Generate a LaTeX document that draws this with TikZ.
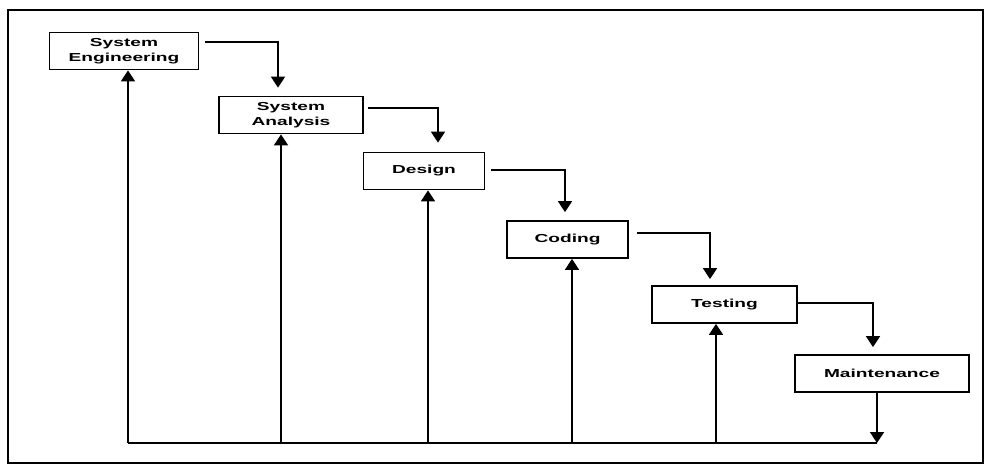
\documentclass[tikz,border=0pt]{standalone}
\usepackage{fontspec}
\setmainfont{Liberation Sans}
\newfontfamily\stagefont[FakeStretch=1.65]{Liberation Sans}
\usetikzlibrary{arrows.meta}

\begin{document}
\begin{tikzpicture}[x=0.2mm, y=-0.2mm,
    stage/.style={draw, line width=1pt, minimum height=7.4mm, inner sep=0pt, align=center,
      font=\stagefont\bfseries\fontsize{6.6}{8.5}\selectfont},
    link/.style={line width=1pt},
    flow/.style={line width=1pt, -{Triangle[width=2.8mm, length=2.2mm]}}]
  \useasboundingbox (0,0) rectangle (987,468);
  \draw[line width=1pt] (8,10) rectangle (983,463);
  % the stages
  \node[stage, minimum width=29.8mm] (se) at (124,51) {System\\Engineering};
  \node[stage, minimum width=28.8mm] (sa) at (291,115) {System\\Analysis};
  \node[stage, minimum width=24.2mm] (ds) at (424,171) {Design};
  \node[stage, minimum width=24.2mm] (cd) at (567.5,239.5) {Coding};
  \node[stage, minimum width=29mm] (ts) at (724.5,304.5) {Testing};
  \node[stage, minimum width=34.8mm] (mt) at (882,373.5) {Maintenance};
  % going down the steps
  \draw[flow, shorten <=1.2mm, shorten >=1.6mm] ([yshift=1.8mm]se.east) -| ([xshift=-2.6mm]sa.north);
  \draw[flow, shorten <=0.8mm, shorten >=1.8mm] ([yshift=1.4mm]sa.east) -| ([xshift=2.8mm]ds.north);
  \draw[flow, shorten <=1.2mm, shorten >=1.6mm] ([yshift=0.2mm]ds.east) -| ([xshift=-0.5mm]cd.north);
  \draw[flow, shorten <=1.6mm, shorten >=1.2mm] ([yshift=1.3mm]cd.east) -| ([xshift=-2.9mm]ts.north);
  \draw[flow, shorten >=1.4mm] ([yshift=0.3mm]ts.east) -| ([xshift=-1.8mm]mt.north);
  % feedback to every stage
  \coordinate (base) at (128,443);
  \coordinate (ret) at (877,443);
  \draw[link] (base) -- (ret);
  \draw[flow] (ret |- mt.south) -- (ret);
  \foreach \n/\x in {se/128, sa/281, ds/428, cd/572, ts/716} {
    \coordinate (foot-\n) at (\x,443);
    \draw[flow] (foot-\n) -- (foot-\n |- \n.south);
  }
\end{tikzpicture}
\end{document}
